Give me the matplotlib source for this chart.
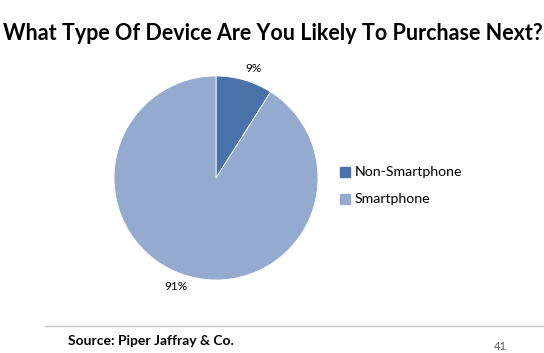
import matplotlib.pyplot as plt
from matplotlib.patches import Rectangle
from matplotlib.lines import Line2D

categories = ['Non-Smartphone', 'Smartphone']
shares = [9, 91]
labels = ['9%', '91%']
colors = ['#4872A8', '#95AACF']

W, H = 544, 353
fig = plt.figure(figsize=(W / 100, H / 100), dpi=100)
plt.rcParams['font.family'] = ['Lato', 'DejaVu Sans']

# pie: centre (216, 178) px, radius 102 px
cx, cy, r = 216, 178, 102
ax = fig.add_axes([(cx - r) / W, (H - cy - r) / H, 2 * r / W, 2 * r / H])
wedges, _ = ax.pie(shares, colors=colors, startangle=90, counterclock=False,
                   radius=1, wedgeprops=dict(edgecolor='white', linewidth=0.6))
ax.set_xlim(-1, 1)
ax.set_ylim(-1, 1)
ax.set_aspect('auto')
ax.axis('off')

# data labels
fig.text(254 / W, 1 - 69 / H, labels[0], fontsize=8.5, ha='center', va='center')
fig.text(176 / W, 1 - 287 / H, labels[1], fontsize=8.5, ha='center', va='center')

# legend
for i, (cat, col) in enumerate(zip(categories, colors)):
    y = 172 + i * 27
    fig.patches.append(Rectangle((340 / W, 1 - (y + 5) / H), 10 / W, 10 / H,
                                 transform=fig.transFigure, color=col))
    fig.text(355 / W, 1 - y / H, cat, fontsize=10.2, ha='left', va='center')

# title
fig.text(273 / W, 1 - 33 / H, 'What Type Of Device Are You Likely To Purchase Next?',
         fontsize=15.5, fontweight='bold', ha='center', va='center')

# footer
fig.lines.append(Line2D([45 / W, 1], [1 - 326 / H, 1 - 326 / H],
                        transform=fig.transFigure, color='#C8C8C8', linewidth=1))
fig.text(68 / W, 1 - 341 / H, 'Source: Piper Jaffray & Co.', fontsize=10,
         fontweight='bold', ha='left', va='center')
fig.text(500 / W, 1 - 347 / H, '41', fontsize=8, color='#555555', ha='center', va='center')

fig.savefig('out.png', dpi=100)
